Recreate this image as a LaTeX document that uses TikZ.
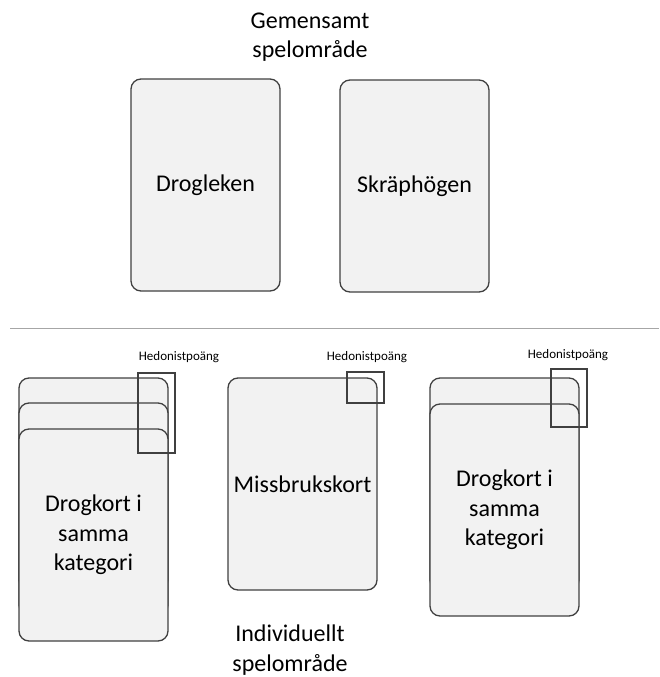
\documentclass[tikz,border=0pt]{standalone}
\usepackage{fontspec}
\setmainfont{Carlito}
\usepackage{xcolor}
\usepackage{tikz}
\definecolor{cardgrey}{RGB}{242,242,242}
\definecolor{edgegrey}{RGB}{64,64,64}
\definecolor{rulegrey}{RGB}{166,166,166}

\tikzset{
  card/.style={draw=edgegrey, fill=cardgrey, line width=1.3pt, rounded corners=10pt,
    minimum width=149pt, minimum height=212pt, align=center,
    font=\fontsize{24}{29.5}\selectfont},
  pointbox/.style={draw=edgegrey, line width=1.3pt, inner sep=0pt},
  pointlabel/.style={font=\fontsize{13}{15}\selectfont},
  arealabel/.style={align=center, font=\fontsize{24}{29.5}\selectfont}
}

\begin{document}
\begin{tikzpicture}[x=1pt, y=-1pt]
\useasboundingbox (0,0) rectangle (659,677);

% gemensamt spelomraade
\node[arealabel] (shared) at (310,37) {Gemensamt\\spelområde};
\node[card] (drogleken) at (205.5,185) {Drogleken};
\node[card] (skraphogen) at (414.5,186) {Skräphögen};

\draw[rulegrey, line width=1pt] (10,328) -- (659,328);

% vaenster hoeg
\node[card] (stackA1) at (93.5,484) {};
\node[card] (stackA2) at (93.5,509) {};
\node[card] (stackA3) at (93.5,535) {Drogkort i\\samma\\kategori};
\node[pointbox, minimum width=37pt, minimum height=80pt] (pointsA) at (156.5,413) {};
\node[pointlabel] (pointsAlbl) at (179,357) {Hedonistpoäng};

% mitten
\node[card] (missbruk) at (302.5,484) {Missbrukskort};
\node[pointbox, minimum width=37pt, minimum height=31pt] (pointsB) at (365.5,387.5) {};
\node[pointlabel] (pointsBlbl) at (367,357) {Hedonistpoäng};

% hoeger hoeg
\node[card] (stackC1) at (504.5,484) {};
\node[card] (stackC2) at (504.5,510) {Drogkort i\\samma\\kategori};
\node[pointbox, minimum width=36pt, minimum height=58pt] (pointsC) at (569,398) {};
\node[pointlabel] (pointsClbl) at (568,355) {Hedonistpoäng};

\node[arealabel] (own) at (290,650) {Individuellt\\spelområde};
\end{tikzpicture}
\end{document}
